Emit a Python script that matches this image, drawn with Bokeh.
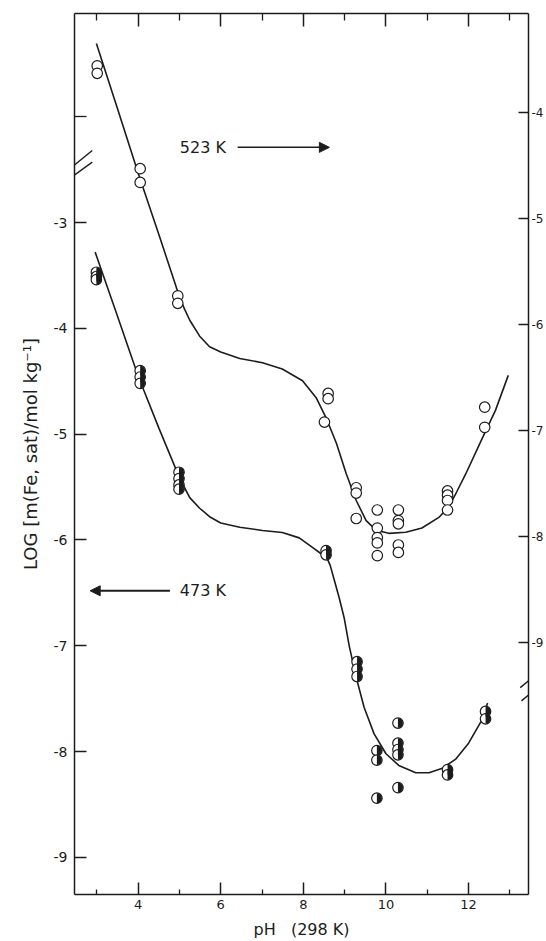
import math
from bokeh.plotting import figure
from bokeh.models import Range1d, LinearAxis, FixedTicker, Label, Arrow, NormalHead
from bokeh.embed import file_html
from bokeh.resources import INLINE

# ---------------- data ----------------
# 523 K experimental points (right-hand axis)
ph_523 = [3.01, 3.01, 4.05, 4.05, 4.96, 4.96,
          8.51, 8.60, 8.60,
          9.28, 9.28, 9.28,
          9.79, 9.79, 9.79, 9.79, 9.79,
          10.30, 10.30, 10.30, 10.30, 10.30,
          11.49, 11.49, 11.49, 11.49,
          12.39, 12.39]
log_523 = [-3.56, -3.63, -4.53, -4.66, -5.73, -5.80,
           -6.92, -6.65, -6.70,
           -7.54, -7.59, -7.83,
           -7.75, -7.92, -8.01, -8.06, -8.18,
           -7.75, -7.85, -7.88, -8.08, -8.15,
           -7.57, -7.61, -7.66, -7.75,
           -6.78, -6.97]

# 473 K experimental points (left-hand axis)
ph_473 = [2.99, 2.99, 2.99, 4.05, 4.05, 4.05, 4.99, 4.99, 4.99, 4.99,
          8.55, 8.55, 9.30, 9.30, 9.30,
          9.78, 9.78, 9.78,
          10.29, 10.29, 10.29, 10.29, 10.29,
          11.49, 11.49, 12.41, 12.41]
log_473 = [-3.47, -3.51, -3.54, -4.40, -4.46, -4.52, -5.36, -5.42, -5.48, -5.52,
           -6.10, -6.14, -7.15, -7.22, -7.29,
           -7.99, -8.08, -8.44,
           -7.73, -7.92, -7.98, -8.03, -8.34,
           -8.17, -8.22, -7.62, -7.69]

# fitted curves
curve_523_ph = [2.99, 3.49, 4.00, 4.51, 5.01, 5.13, 5.25, 5.49, 5.73, 6.00, 6.46,
                7.01, 7.49, 7.98, 8.31, 8.55, 8.80, 9.04, 9.28, 9.52, 9.76,
                10.07, 10.48, 10.87, 11.28, 11.52, 11.71, 11.93, 12.31, 12.65, 12.96]
curve_523_log = [-3.35, -3.95, -4.57, -5.16, -5.75, -5.86, -5.96, -6.11, -6.21, -6.26, -6.32,
                 -6.36, -6.42, -6.53, -6.69, -6.88, -7.12, -7.41, -7.66, -7.85, -7.94,
                 -7.97, -7.96, -7.92, -7.82, -7.72, -7.58, -7.41, -7.09, -6.81, -6.48]

curve_473_ph = [2.96, 3.47, 4.00, 4.51, 5.01, 5.25, 5.49, 5.73, 6.00, 6.46, 7.01,
                7.49, 7.90, 8.22, 8.43, 8.55, 8.65, 8.75, 8.87, 8.99, 9.11, 9.28,
                9.47, 9.71, 10.00, 10.31, 10.72, 11.04, 11.35, 11.69, 12.00, 12.31, 12.46]
curve_473_log = [-3.28, -3.85, -4.45, -4.95, -5.42, -5.60, -5.70, -5.78, -5.84, -5.88, -5.91,
                 -5.93, -5.98, -6.07, -6.13, -6.15, -6.24, -6.38, -6.55, -6.74, -7.00, -7.30,
                 -7.58, -7.83, -8.02, -8.13, -8.20, -8.20, -8.16, -8.07, -7.92, -7.71, -7.54]

x_major = [4, 6, 8, 10, 12]
x_minor = [3, 5, 7, 9, 11, 13]
left_major = [-9, -8, -7, -6, -5, -4, -3]
left_labels = ["-9", "-8", "-7", "-6", "-5", "-4", "-3"]
left_extra = [-2]
right_major = [-9, -8, -7, -6, -5, -4]
right_labels = ["-9", "-8", "-7", "-6", "-5", "-4"]

INK = "#1c1c1c"
FONT = "DejaVu Sans"

p = figure(width=546, height=941,
           x_range=Range1d(2.46, 13.45), y_range=Range1d(-9.35, -1.025),
           output_backend="svg", toolbar_location=None,
           min_border_left=74, min_border_right=16, min_border_top=13, min_border_bottom=47,
           x_axis_label="pH\u00a0\u00a0\u00a0(298\u00a0K)",
           y_axis_label="LOG [m(Fe,\u00a0sat)/mol\u00a0kg\u207b\u00b9]")
p.extra_y_ranges = {"r523": Range1d(-11.377, -3.066)}
p.grid.visible = False
p.outline_line_color = None
p.background_fill_color = "white"

def style_axis(ax, tick_in, minor_in, font_size="14px", standoff=6):
    ax.axis_line_color = INK
    ax.axis_line_width = 1.5
    ax.major_tick_line_color = INK
    ax.major_tick_line_width = 1.5
    ax.minor_tick_line_color = INK
    ax.minor_tick_line_width = 1.3
    ax.major_tick_in = tick_in
    ax.major_tick_out = 0
    ax.minor_tick_in = minor_in
    ax.minor_tick_out = 0
    ax.major_label_text_font = FONT
    ax.major_label_text_font_size = font_size
    ax.major_label_text_color = INK
    ax.major_label_standoff = standoff
    ax.axis_label_text_font = FONT
    ax.axis_label_text_font_style = "normal"
    ax.axis_label_text_color = INK

# bottom
xb = p.xaxis[0]
xb.ticker = FixedTicker(ticks=x_major, minor_ticks=x_minor)
style_axis(xb, 12, 5, "13px", 5)
xb.axis_label_text_font_size = "16px"
xb.axis_label_standoff = 8

# left
yl = p.yaxis[0]
yl.ticker = FixedTicker(ticks=left_major, minor_ticks=left_extra)
style_axis(yl, 12, 12, "14px", 7)
yl.major_label_overrides = dict(zip(left_major, left_labels))
yl.axis_label_text_font_size = "18px"
yl.axis_label_standoff = 10

# top (ticks only)
xt = LinearAxis(ticker=FixedTicker(ticks=x_major, minor_ticks=x_minor))
style_axis(xt, 13, 7, "1px", 0)
xt.major_label_overrides = {t: "" for t in x_major}
p.add_layout(xt, "above")

# right (523 K scale)
yr = LinearAxis(y_range_name="r523", ticker=FixedTicker(ticks=right_major, minor_ticks=[]))
style_axis(yr, 10, 0, "12px", 3)
yr.major_label_overrides = dict(zip(right_major, right_labels))
p.add_layout(yr, "right")

# curves
p.line(curve_523_ph, curve_523_log, y_range_name="r523", line_color=INK, line_width=1.6)
p.line(curve_473_ph, curve_473_log, line_color=INK, line_width=1.6)

# 523 K: open circles
p.scatter(ph_523, log_523, y_range_name="r523", marker="circle", size=10.5,
          fill_color="white", line_color=INK, line_width=1.2)

# 473 K: half-filled circles
p.scatter(ph_473, log_473, marker="circle", size=10.5,
          fill_color="white", line_color=INK, line_width=1.2)
p.wedge(x=ph_473, y=log_473, radius=5, radius_units="screen",
        start_angle=-math.pi / 2, end_angle=math.pi / 2,
        fill_color=INK, line_color=None)

# temperature labels with arrows
p.add_layout(Label(x=5.01, y=-2.29, text="523 K", text_baseline="middle",
                   text_font=FONT, text_font_size="16px", text_color=INK))
p.add_layout(Arrow(x_start=6.41, y_start=-2.29, x_end=8.63, y_end=-2.29,
                   line_color=INK, line_width=1.5,
                   end=NormalHead(size=10, fill_color=INK, line_color=INK)))
p.add_layout(Label(x=5.01, y=-6.48, text="473 K", text_baseline="middle",
                   text_font=FONT, text_font_size="16px", text_color=INK))
p.add_layout(Arrow(x_start=4.77, y_start=-6.48, x_end=2.84, y_end=-6.48,
                   line_color=INK, line_width=2,
                   end=NormalHead(size=10, fill_color=INK, line_color=INK)))

# axis break marks
for (xs, ys, xe, ye) in [(2.24, -2.527, 2.89, -2.32), (2.29, -2.60, 2.89, -2.43),
                         (13.25, -7.395, 13.76, -7.23), (13.28, -7.52, 13.81, -7.35)]:
    p.add_layout(Arrow(x_start=xs, y_start=ys, x_end=xe, y_end=ye, start=None, end=None,
                       line_color=INK, line_width=1.4))

open("out.html", "w").write(file_html(p, INLINE))
